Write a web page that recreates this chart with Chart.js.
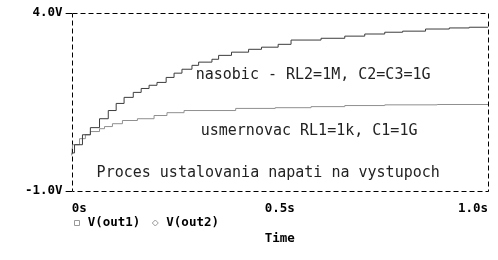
<!DOCTYPE html>
<html>
<head>
<meta charset="utf-8">
<script src="https://cdn.jsdelivr.net/npm/chart.js@4.4.0/dist/chart.umd.min.js"></script>
<style>
  body { margin: 0; background: #fff; }
  #wrap { width: 498px; height: 260px; position: relative; }
</style>
</head>
<body>
<div id="wrap"><canvas id="chart"></canvas></div>
<script>
// V(out1) - nasobic, staircase
var times1 = [0, 0.007, 0.026, 0.045, 0.067, 0.088, 0.107, 0.126, 0.148, 0.167, 0.186, 0.205, 0.227, 0.246, 0.265, 0.289, 0.305, 0.337, 0.353, 0.384, 0.425, 0.456, 0.496, 0.527, 0.599, 0.656, 0.704, 0.752, 0.795, 0.85, 0.907, 0.955, 1.0];
var out1 =   [0, 0.07, 0.30, 0.58, 0.78, 1.03, 1.26, 1.46, 1.63, 1.77, 1.88, 1.97, 2.05, 2.19, 2.31, 2.42, 2.53, 2.62, 2.70, 2.81, 2.90, 2.98, 3.04, 3.12, 3.24, 3.29, 3.35, 3.41, 3.46, 3.49, 3.55, 3.58, 3.60];

// V(out2) - usmernovac
var times2 = [0, 0.002, 0.019, 0.033, 0.045, 0.067, 0.079, 0.098, 0.122, 0.158, 0.198, 0.229, 0.27, 0.394, 0.489, 0.575, 0.656, 0.752, 0.878, 1.0];
var out2 =   [0, 0.19, 0.30, 0.47, 0.58, 0.67, 0.75, 0.81, 0.89, 0.98, 1.03, 1.12, 1.20, 1.26, 1.32, 1.34, 1.37, 1.40, 1.42, 1.43];

var seriesNames = ['V(out1)', 'V(out2)'];
var xTicks = [0, 0.5, 1.0];
var yTicks = [-1, 4];

// texts written into the plot (time, volts)
var notes = [
    { text: 'nasobic - RL2=1M, C2=C3=1G', t: 0.298, v: 2.25 },
    { text: 'usmernovac RL1=1k, C1=1G', t: 0.310, v: 0.68 },
    { text: 'Proces ustalovania napati na vystupoch', t: 0.060, v: -0.50 }
];

var tickFont = { family: 'DejaVu Sans Mono', size: 12.5, weight: 'bold' };

function toPoints(xs, ys) {
    var pts = [];
    for (let i in xs) {
        pts.push({ x: xs[i], y: ys[i] });
    }
    return pts;
}

var framePlugin = {
    id: 'frame',
    beforeDatasetsDraw: function (chart) {
        var a = chart.chartArea, ctx = chart.ctx;
        ctx.save();
        ctx.strokeStyle = '#000';
        ctx.lineWidth = 1;
        ctx.setLineDash([5, 3]);
        ctx.strokeRect(Math.round(a.left) + 0.5, Math.round(a.top) + 0.5,
            Math.round(a.right - a.left), Math.round(a.bottom - a.top));
        ctx.restore();
    }
};

var notesPlugin = {
    id: 'notes',
    afterDatasetsDraw: function (chart) {
        var ctx = chart.ctx, xs = chart.scales.x, ys = chart.scales.y;
        ctx.save();
        ctx.font = '15px "DejaVu Sans Mono"';
        ctx.fillStyle = '#222';
        ctx.textBaseline = 'middle';
        ctx.textAlign = 'left';
        notes.forEach(function (n) {
            ctx.fillText(n.text, xs.getPixelForValue(n.t), ys.getPixelForValue(n.v));
        });
        ctx.restore();
    }
};

// legend sits between the tick labels and the axis title
var legendPlugin = {
    id: 'pspiceLegend',
    afterDraw: function (chart) {
        var ctx = chart.ctx, a = chart.chartArea;
        var y = a.bottom + 32;
        var x = a.left + 5;
        ctx.save();
        ctx.font = 'bold 12.5px "DejaVu Sans Mono"';
        ctx.textBaseline = 'middle';
        ctx.lineWidth = 1;
        chart.data.datasets.forEach(function (ds, i) {
            ctx.strokeStyle = '#999';
            ctx.beginPath();
            if (i === 0) {
                ctx.rect(Math.round(x) - 2.5, Math.round(y) - 2.5, 5, 5);
            } else {
                ctx.moveTo(x, y - 3);
                ctx.lineTo(x + 3, y);
                ctx.lineTo(x, y + 3);
                ctx.lineTo(x - 3, y);
                ctx.closePath();
            }
            ctx.stroke();
            ctx.fillStyle = '#000';
            ctx.fillText(ds.label, x + 11, y);
            x += 11 + ctx.measureText(ds.label).width + 15;
        });
        ctx.restore();
    }
};

var chart = new Chart(document.getElementById('chart'), {
    type: 'line',
    data: {
        datasets: [{
            label: seriesNames[0],
            data: toPoints(times1, out1),
            borderColor: '#3c3c3c',
            borderWidth: 1,
            pointRadius: 0,
            stepped: 'after'
        }, {
            label: seriesNames[1],
            data: toPoints(times2, out2),
            borderColor: '#8f8f8f',
            borderWidth: 1,
            pointRadius: 0,
            stepped: 'after'
        }]
    },
    options: {
        responsive: true,
        maintainAspectRatio: false,
        animation: false,
        layout: { padding: { left: 22, top: 13, right: 1, bottom: 14 } },
        plugins: {
            legend: { display: false },
            tooltip: { enabled: false }
        },
        scales: {
            x: {
                type: 'linear',
                min: 0,
                max: 1,
                afterBuildTicks: function (axis) {
                    axis.ticks = xTicks.map(function (v) { return { value: v }; });
                },
                border: { display: false },
                grid: { display: false, drawTicks: false },
                ticks: {
                    font: tickFont,
                    color: '#000',
                    padding: 10,
                    align: 'inner',
                    maxRotation: 0,
                    callback: function (v) { return v === 0 ? '0s' : v.toFixed(1) + 's'; }
                },
                title: {
                    display: true,
                    text: 'Time',
                    font: tickFont,
                    color: '#000',
                    padding: { top: 5, bottom: 0 }
                }
            },
            y: {
                min: -1,
                max: 4,
                afterBuildTicks: function (axis) {
                    axis.ticks = yTicks.map(function (v) { return { value: v }; });
                },
                border: { display: false },
                grid: { drawOnChartArea: false, drawTicks: true, tickLength: 6, color: '#000' },
                ticks: {
                    font: tickFont,
                    color: '#000',
                    padding: 3,
                    callback: function (v) { return v.toFixed(1) + 'V'; }
                }
            }
        }
    },
    plugins: [framePlugin, notesPlugin, legendPlugin]
});
</script>
</body>
</html>
